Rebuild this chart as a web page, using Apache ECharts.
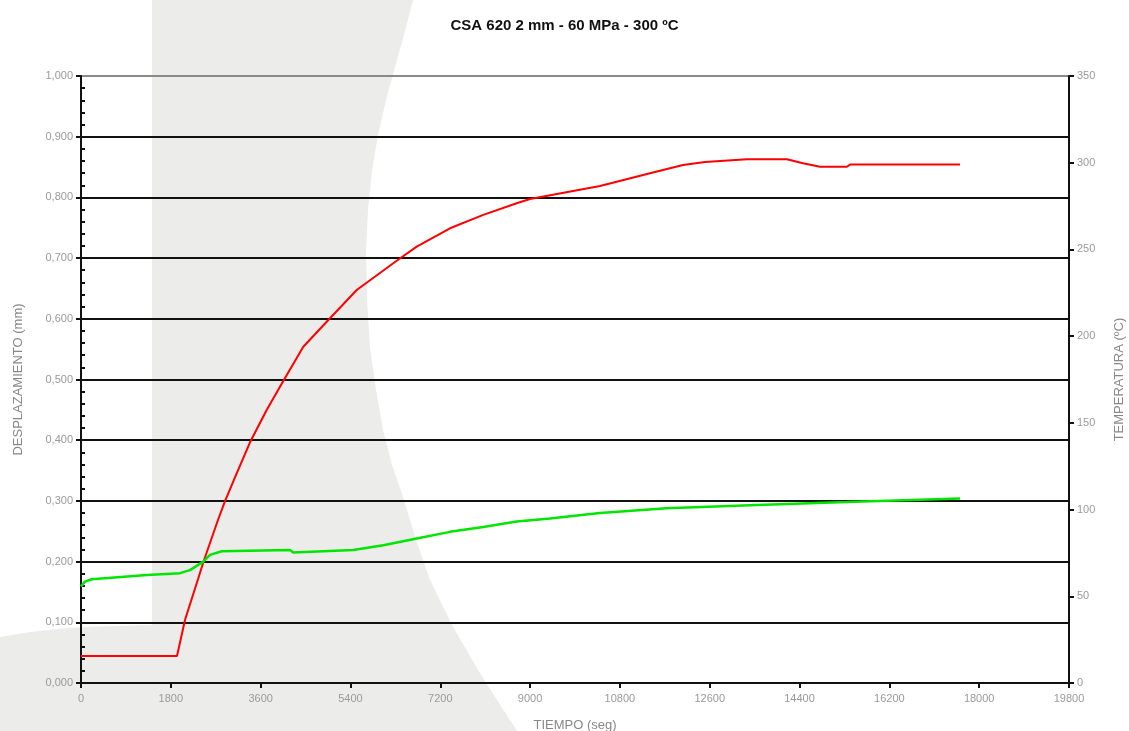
<!DOCTYPE html>
<html>
<head>
<meta charset="utf-8">
<script src="https://cdn.jsdelivr.net/npm/echarts@6/dist/echarts.min.js"></script>
<style>html,body{margin:0;padding:0;background:#fff}#c{width:1129px;height:731px}</style>
</head>
<body>
<div id="c"></div>
<script>
// ---- data ----
const titulo = 'CSA 620 2 mm - 60 MPa - 300 ºC';
const xTicks = [0,1800,3600,5400,7200,9000,10800,12600,14400,16200,18000,19800];
// Temperature (ºC, right axis)
const tiempoTemp = [0,1924,2084,2351,2451,2745,2886,3120,3387,3721,4054,4455,4924,5525,6327,6728,7395,8062,8731,8998,10401,11403,12064,12505,13347,14148,14469,14810,15351,15411,17615];
const temperatura = [15.6,15.6,36.3,60.4,69.6,94.0,104.9,120.9,138.8,157.4,174.1,193.9,208.3,226.6,243.5,251.6,262.2,269.9,276.6,279.1,286.6,293.9,298.7,300.4,302.0,302.0,299.7,297.7,297.7,298.9,298.9];
// Displacement (mm, left axis)
const tiempoDesp = [0,80,214,541,1317,1984,2184,2451,2585,2820,4188,4254,5457,6058,6727,7395,8062,8731,9399,10401,11738,13406,15345,17615];
const desplazamiento = [0.159,0.167,0.171,0.173,0.178,0.181,0.186,0.200,0.211,0.217,0.219,0.215,0.219,0.227,0.238,0.249,0.257,0.266,0.271,0.280,0.288,0.293,0.298,0.304];

const chart = echarts.init(document.getElementById('c'));
const FONT = 'Liberation Sans, Arial, sans-serif';
const labelStyle = {color:'#9a9a9a', fontSize:11, fontFamily:FONT};
const nameStyle = {color:'#888', fontSize:13, fontFamily:FONT};
const gridColors = [];
for (let i = 0; i < 10; i++) gridColors.push('#111');
gridColors.push('#8a8a8a');

chart.setOption({
  backgroundColor:'#fff',
  animation:false,
  graphic:[{
    type:'polygon', z:-100, silent:true,
    shape:{points:[[152,0],[413,0],[404,35],[395,67],[386,100],[378,135],[372,170],[368,210],[366,250],[367,300],[370,347],[376,390],[383,430],[392,465],[403,497],[416,540],[430,580],[452,625],[478,670],[497,700],[517,731],[0,731],[0,637],[30,632],[67,628],[100,626.5],[152,625]]},
    style:{fill:'#ececea'}
  }],
  title:{text:titulo,left:'center',top:13,textStyle:{fontSize:15,fontWeight:'bold',color:'#111',fontFamily:FONT}},
  grid:{left:81,right:60,top:76,bottom:48,outerBoundsMode:'none',containLabel:false},
  xAxis:{
    type:'value',min:0,max:19800,interval:1800,
    name:'TIEMPO (seg)',nameLocation:'middle',nameGap:36,
    nameTextStyle:nameStyle,
    axisLine:{lineStyle:{color:'#111',width:2}},
    axisTick:{show:true,length:5,lineStyle:{color:'#111',width:2}},
    axisLabel:Object.assign({margin:10,formatter:v=>String(v)},labelStyle),
    splitLine:{show:false}
  },
  yAxis:[{
    type:'value',min:0,max:1,interval:0.1,position:'left',
    name:'DESPLAZAMIENTO (mm)',nameLocation:'middle',nameGap:56,nameRotate:90,
    nameTextStyle:nameStyle,
    axisLine:{show:true,lineStyle:{color:'#111',width:2}},
    axisTick:{show:true,length:5,lineStyle:{color:'#111',width:2}},
    minorTick:{show:true,splitNumber:5,length:-4,lineStyle:{color:'#111',width:2}},
    axisLabel:Object.assign({margin:8,formatter:v=>v.toFixed(3).replace('.',',')},labelStyle),
    splitLine:{show:true,lineStyle:{color:gridColors,width:2}}
  },{
    type:'value',min:0,max:350,interval:50,position:'right',
    name:'TEMPERATURA (ºC)',nameLocation:'middle',nameGap:44,nameRotate:90,
    nameTextStyle:nameStyle,
    axisLine:{show:true,lineStyle:{color:'#111',width:2}},
    axisTick:{show:true,length:5,lineStyle:{color:'#111',width:2}},
    axisLabel:Object.assign({margin:8},labelStyle),
    splitLine:{show:false}
  }],
  series:[{
    name:'Temperatura',type:'line',yAxisIndex:1,showSymbol:false,
    lineStyle:{color:'#ff0000',width:2},
    data:tiempoTemp.map((t,i)=>[t,temperatura[i]])
  },{
    name:'Desplazamiento',type:'line',yAxisIndex:0,showSymbol:false,
    lineStyle:{color:'#00e600',width:2.5},
    data:tiempoDesp.map((t,i)=>[t,desplazamiento[i]])
  }]
});
</script>
</body>
</html>
